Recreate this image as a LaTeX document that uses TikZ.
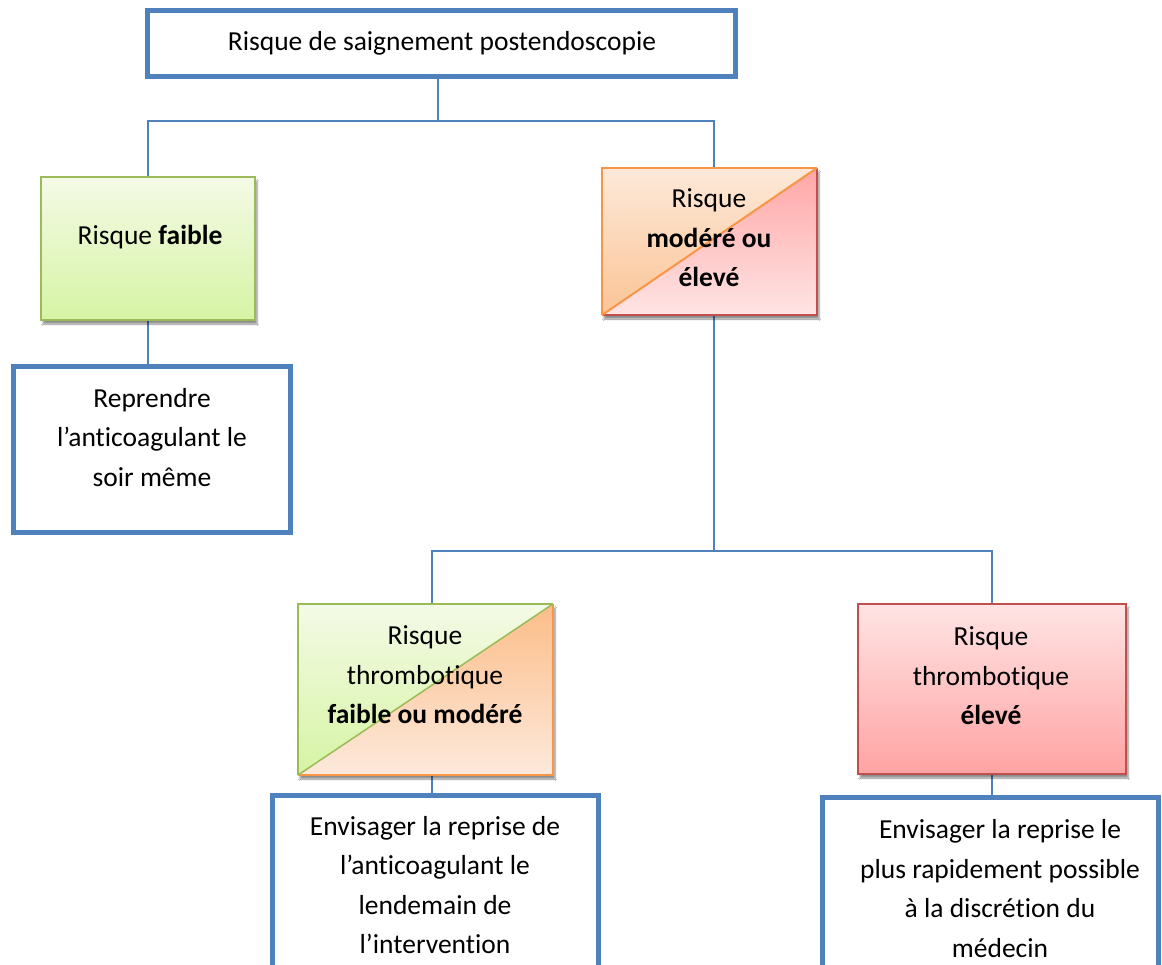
\documentclass[tikz,border=0pt]{standalone}
\usepackage{fontspec}
\setmainfont{Carlito}[Ligatures={NoCommon}]
\usetikzlibrary{shadows.blur,backgrounds}
\definecolor{blueb}{HTML}{4F81BD}
\definecolor{greenb}{HTML}{9BBB59}
\definecolor{orangeb}{HTML}{F79646}
\definecolor{redb}{HTML}{C0504D}
\definecolor{gtop}{HTML}{F4FAE6}
\definecolor{gbot}{HTML}{D6F4A4}
\definecolor{otop}{HTML}{FDE9D9}
\definecolor{obot}{HTML}{FBC496}
\definecolor{o2top}{HTML}{FCBD88}
\definecolor{o2bot}{HTML}{FDE9DC}
\definecolor{ptop}{HTML}{FFA6A6}
\definecolor{pbot}{HTML}{FFE4E4}
\definecolor{etop}{HTML}{FFE4E4}
\definecolor{ebot}{HTML}{FFA3A3}
\tikzset{
  bluebox/.style={draw=blueb, line width=5pt, fill=white, rectangle, inner sep=0pt},
  conn/.style={draw=blueb, line width=1.8pt},
  txt/.style={font=\fontsize{27.5}{39.5}\selectfont, align=center, inner sep=0pt},
  shad/.style={blur shadow={shadow xshift=2pt, shadow yshift=-4pt, shadow blur steps=6, shadow opacity=45}},
  colbox/.style={rectangle, inner sep=0pt, shad},
}
\begin{document}
\begin{tikzpicture}[x=1pt, y=-1pt]
\useasboundingbox (0,0) rectangle (1162,964);
\clip (0,0) rectangle (1162,964);

% boxes
\node[bluebox, minimum width=588pt, minimum height=66pt] (top) at (441,43) {};
\node[colbox, draw=greenb, line width=1.5pt, top color=gtop, bottom color=gbot,
      minimum width=214pt, minimum height=143pt] (faible) at (148,248.5) {};
\node[bluebox, minimum width=277pt, minimum height=166pt] (rep) at (151.5,449) {};
\node[colbox, minimum width=215pt, minimum height=147pt, fill=white,
  path picture={
    \shade[top color=ptop, bottom color=pbot] (path picture bounding box.north east) -- (path picture bounding box.south east) -- (path picture bounding box.south west) -- cycle;
    \shade[top color=otop, bottom color=obot] (path picture bounding box.south west) -- (path picture bounding box.north west) -- (path picture bounding box.north east) -- cycle;
  }] (mod) at (709.5,241.5) {};
\node[colbox, minimum width=255pt, minimum height=171pt, fill=white,
  path picture={
    \shade[top color=o2top, bottom color=o2bot] (path picture bounding box.north east) -- (path picture bounding box.south east) -- (path picture bounding box.south west) -- cycle;
    \shade[top color=gtop, bottom color=gbot] (path picture bounding box.south west) -- (path picture bounding box.north west) -- (path picture bounding box.north east) -- cycle;
  }] (fm) at (425.5,689.5) {};
\node[colbox, draw=redb, line width=1.5pt, top color=etop, bottom color=ebot,
      minimum width=268pt, minimum height=170pt] (el) at (992,689) {};
\node[bluebox, minimum width=326pt, minimum height=190pt] (env1) at (435,890) {};
\node[bluebox, minimum width=336pt, minimum height=190pt] (env2) at (990,892) {};

% split box borders
\draw[redb, line width=1.5pt] (mod.north east) -- (mod.south east) -- (mod.south west);
\draw[orangeb, line width=1.5pt] (mod.south west) -- (mod.north west) -- (mod.north east);
\draw[orangeb, line width=2pt] (mod.south west) -- (mod.north east);
\draw[orangeb, line width=1.5pt] (fm.north east) -- (fm.south east) -- (fm.south west);
\draw[greenb, line width=1.5pt] (fm.south west) -- (fm.north west) -- (fm.north east);
\draw[greenb, line width=1.5pt] (fm.south west) -- (fm.north east);

% texts
\node[txt] (t0) at (442,43) {Risque de saignement postendoscopie};
\node[txt] (t1) at (150,237) {Risque \textbf{faible}};
\node[txt] (t2) at (152,437.5) {Reprendre\\l’anticoagulant le\\soir même};
\node[txt] (t3) at (709,238) {Risque\\\textbf{modéré ou}\\\textbf{élevé}};
\node[txt] (t4) at (425,675) {Risque\\thrombotique\\\textbf{faible ou modéré}};
\node[txt] (t5) at (991,676) {Risque\\thrombotique\\\textbf{élevé}};
\node[txt] (t6) at (435,885) {Envisager la reprise de\\l’anticoagulant le\\lendemain de\\l’intervention};
\node[txt] (t7) at (1000,888.5) {Envisager la reprise le\\plus rapidement possible\\à la discrétion du\\médecin};

% connectors
\begin{scope}[on background layer]
\fill[white] (0,0) rectangle (1162,964);
\coordinate (j1) at (438,121);
\coordinate (j2) at (714,551);
\coordinate (mtop) at ([xshift=4.5pt]mod.north);
\coordinate (mbot) at ([xshift=4.5pt]mod.south);
\coordinate (fmtop) at ([xshift=6.5pt]fm.north);
\coordinate (fmbot) at ([xshift=6.5pt]fm.south);
\draw[conn] (top.south -| j1) -- (j1);
\draw[conn] (faible.north) |- (mtop |- j1) -- (mtop);
\draw[conn] (faible.south) -- (faible.south |- rep.north);
\draw[conn] (mbot) -- (mbot |- j2);
\draw[conn] (fmtop) |- (el.north |- j2) -- (el.north);
\draw[conn] (fmbot) -- (fmbot |- env1.north);
\draw[conn] (el.south) -- (el.south |- env2.north);
\end{scope}
\end{tikzpicture}
\end{document}
